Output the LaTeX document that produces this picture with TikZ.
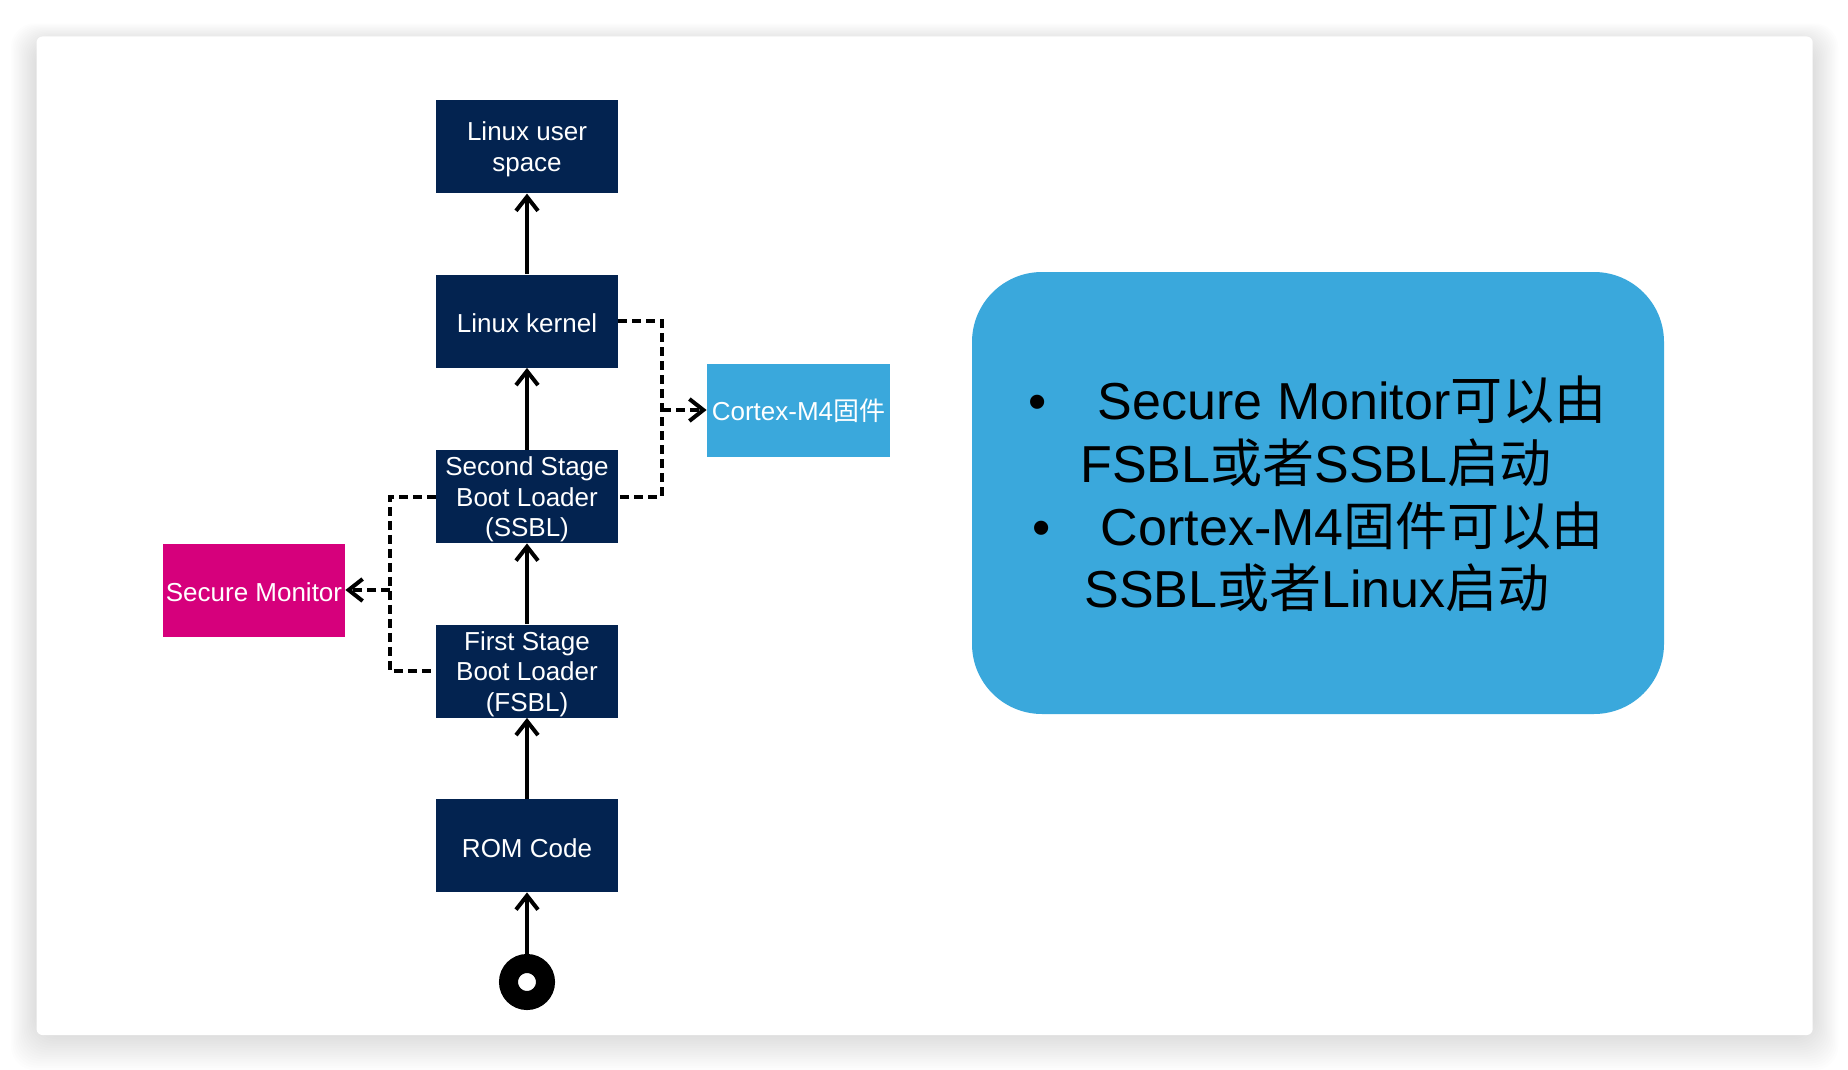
\documentclass[tikz,border=0pt]{standalone}
\usepackage{fontspec}
\setmainfont{Liberation Sans}
\newfontfamily\cjk{Noto Sans CJK SC}
\usetikzlibrary{arrows.meta}
\definecolor{navy}{RGB}{3,35,80}
\definecolor{stpink}{RGB}{214,0,124}
\definecolor{stblue}{RGB}{58,168,220}
\newcommand\stglines[2]{\raisebox{-#1}[\height][\depth]{\begin{tabular}{@{}c@{}}#2\end{tabular}}}
\tikzset{
  stage/.style={fill=navy, text=white, minimum width=91pt, minimum height=46.5pt,
    inner sep=0pt, align=center, font=\fontsize{13pt}{15.3pt}\selectfont},
  arr/.style={line width=2pt, -{Straight Barb[length=7pt,width=11pt]}},
  dashline/.style={line width=2pt, dash pattern=on 4.5pt off 2.5pt},
  dasharr/.style={dashline, -{Straight Barb[length=7pt,width=11pt]}},
  note/.style={anchor=base west, inner sep=0pt, font=\fontsize{26pt}{31pt}\selectfont, text=black}
}
\begin{document}
\begin{tikzpicture}[x=0.5pt,y=-0.5pt]
\useasboundingbox (0,0) rectangle (1848,1070);
\fill[white] (0,0) rectangle (1848,1070);
% card shadow
\foreach \i in {1,...,16}{
  \fill[black, opacity=0.009, rounded corners=12pt]
    (36.5-\i*1.6, 36.5-\i*1.2+6) rectangle (1812.7+\i*1.6, 1035+\i*2.2);
}
\fill[white, rounded corners=3pt] (36.5,36.5) rectangle (1812.7,1035);

% stages
\node[stage] (us)   at (527,146.7) {\stglines{1.5pt}{Linux user\\space}};
\node[stage] (kern) at (527,321)   {\stglines{2.5pt}{Linux kernel}};
\node[stage] (ssbl) at (527,496.5) {\stglines{1.8pt}{Second Stage\\Boot Loader\\(SSBL)}};
\node[stage] (fsbl) at (527,671)   {\stglines{1.8pt}{First Stage\\Boot Loader\\(FSBL)}};
\node[stage] (rom)  at (527,845.5) {\stglines{2.7pt}{ROM Code}};
\node[stage, fill=stpink] (sm) at (254,590) {\stglines{2.6pt}{Secure Monitor}};
\node[stage, fill=stblue, minimum width=91.5pt] (cm4) at (798.5,410) {\stglines{1.9pt}{Cortex-M4{\cjk 固件}}};
\node[draw=black, line width=9.5pt, fill=white, circle, minimum size=18.5pt, inner sep=0pt] (start) at (527,982) {};

% solid arrows
\draw[arr] (start) -- (rom.south);
\draw[arr] (rom.north) -- (fsbl.south);
\draw[arr] (fsbl.north) -- (ssbl.south);
\draw[arr] (ssbl.north) -- (kern.south);
\draw[arr] (kern.north) -- (us.south);

% dashed connectors
\coordinate (jr) at (662,410);
\coordinate (jl) at (390,590);
\draw[dashline] (kern.east) -| (jr) |- (ssbl.east);
\draw[dasharr] (jr) -- (cm4.west);
\draw[dashline] (ssbl.west) -| (jl) |- (fsbl.west);
\draw[dasharr] (jl) -- (sm.east);

% note box
\node[fill=stblue, rounded corners=35pt, minimum width=346pt, minimum height=221pt] (box) at (1318,493) {};
\node[note] (l1) at (1028,419) {\makebox[34.75pt][l]{•}Secure Monitor{\cjk 可以由}};
\node[note] (l2) at (1080,482) {FSBL{\cjk 或者}SSBL{\cjk 启动}};
\node[note] (l3) at (1032,545) {\makebox[34.25pt][l]{•}Cortex-M4{\cjk 固件可以由}};
\node[note] (l4) at (1084,607) {SSBL{\cjk 或者}Linux{\cjk 启动}};
\end{tikzpicture}
\end{document}
